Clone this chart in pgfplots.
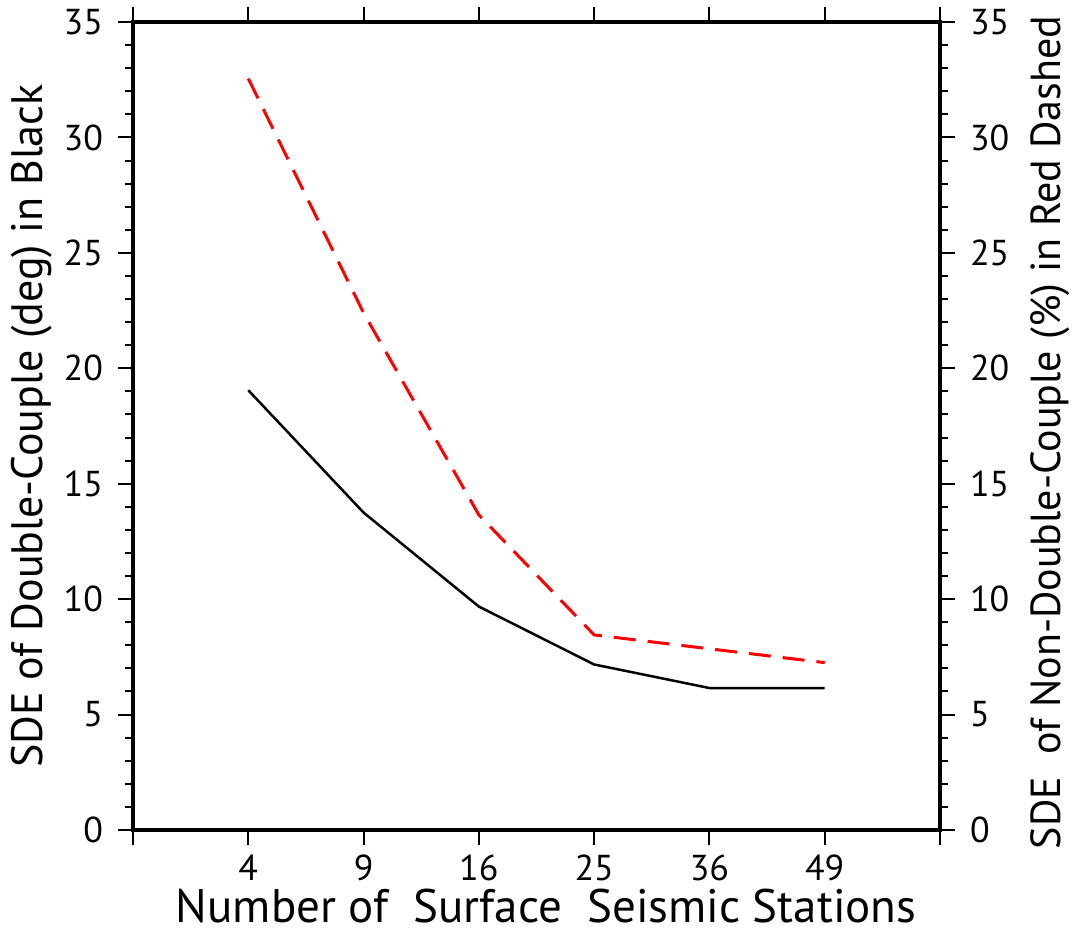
\documentclass[border=0pt]{standalone}
\usepackage{pgfplots}
\pgfplotsset{compat=1.18}
\usepackage{fontspec}
\setmainfont{PT Sans}
\begin{document}
\begin{tikzpicture}
\pgfplotsset{
  common/.style={
    width=403.5pt, height=404pt, scale only axis,
    xmin=0, xmax=7, ymin=0, ymax=35,
    ytick={0,5,...,35}, minor y tick num=4,
    tick align=outside,
    major tick length=7.5pt, minor tick length=4pt,
    every tick/.style={black, line width=1pt},
    axis line style={line width=2pt, black},
    /pgf/number format/assume math mode=true,
    ticklabel style={font=\fontsize{18}{21}\selectfont},
    label style={font=\fontsize{22}{26}\selectfont},
  }
}
\begin{axis}[common,
  xtick={0,...,7}, xticklabels={,4,9,16,25,36,49,},
  xtick pos=both, xticklabel pos=bottom,
  ytick pos=left,
  xticklabel style={yshift=-3.5pt, inner sep=1pt},
  yticklabel style={xshift=-4pt},
  xlabel={Number of\ \ Surface\ \ Seismic Stations},
  xlabel style={at={(axis description cs:0.512,-0.0935)}, anchor=center, inner sep=0pt, font=\fontsize{23.5}{27}\selectfont},
  ylabel={SDE of Double-Couple (deg) in Black},
  ylabel style={at={(axis description cs:-0.1252,0.5)}, anchor=center, rotate=0},
]
\coordinate (O) at (rel axis cs:0,0);
\addplot[black, line width=1.25pt, line join=round] coordinates {
  (1,19.05) (2,13.75) (3,9.68) (4,7.17) (5,6.15) (6,6.15)
};
\addplot[red, line width=1.5pt, dash pattern=on 11pt off 6pt] coordinates {
  (1,32.55) (2,22.4) (3,13.65) (4,8.45) (5,7.85) (6,7.25)
};
\end{axis}
\begin{axis}[common,
  hide x axis,
  ytick pos=right, yticklabel pos=right,
  yticklabel style={xshift=4pt},
  ylabel={SDE\ \ of Non-Double-Couple (\%) in Red Dashed},
  ylabel style={at={(axis description cs:1.1363,0.492)}, anchor=center, rotate=0, font=\fontsize{21}{25}\selectfont},
]
\end{axis}
\pgfresetboundingbox
\path[use as bounding box] (O) ++(-66.5pt,-51pt) rectangle ++(537pt,466pt);
\end{tikzpicture}
\end{document}
